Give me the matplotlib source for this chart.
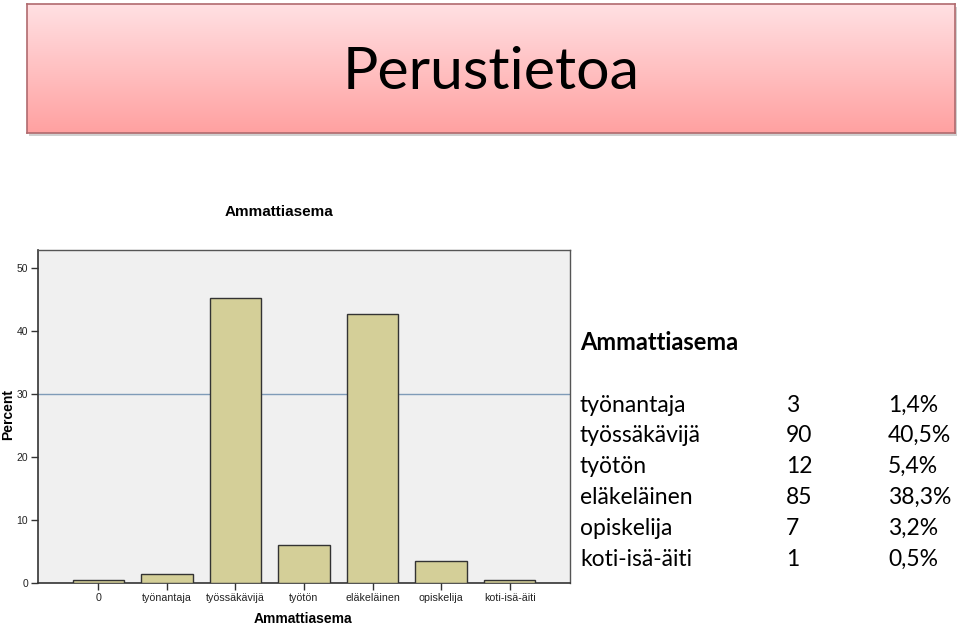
import matplotlib
matplotlib.use("Agg")
import matplotlib.pyplot as plt
import numpy as np

categories = ["0", "työnantaja", "työssäkävijä", "työtön", "eläkeläinen", "opiskelija", "koti-isä-äiti"]
percent = [0.5, 1.5, 45.2, 6.0, 42.7, 3.5, 0.5]
yticks = [0, 10, 20, 30, 40, 50]
ref_line = 30

table_labels = ["työnantaja", "työssäkävijä", "työtön", "eläkeläinen", "opiskelija", "koti-isä-äiti"]
table_counts = ["3", "90", "12", "85", "7", "1"]
table_pcts = ["1,4%", "40,5%", "5,4%", "38,3%", "3,2%", "0,5%"]

W, H = 960, 625
fig = plt.figure(figsize=(9.6, 6.25), dpi=100)
fig.patch.set_facecolor("white")

# Title banner with gradient
bx0, by0, bx1, by1 = 27, 4, 955, 133
shadow = fig.add_axes([(bx0 + 2) / W, 1 - (by1 + 3) / H, (bx1 - bx0) / W, (by1 - by0) / H])
shadow.set_facecolor("#d0d0d0")
shadow.set_xticks([]); shadow.set_yticks([])
for s in shadow.spines.values():
    s.set_visible(False)
ban = fig.add_axes([bx0 / W, 1 - by1 / H, (bx1 - bx0) / W, (by1 - by0) / H])
grad = np.linspace(0, 1, 256).reshape(-1, 1)
top = np.array([1.0, 0.88, 0.89])
bot = np.array([1.0, 0.63, 0.63])
img = top[None, None, :] * (1 - grad[..., None]) + bot[None, None, :] * grad[..., None]
ban.imshow(img, aspect="auto", extent=[0, 1, 0, 1], origin="upper")
ban.set_xlim(0, 1); ban.set_ylim(0, 1)
ban.set_xticks([]); ban.set_yticks([])
for s in ban.spines.values():
    s.set_color("#b06a6e")
    s.set_linewidth(1.2)
ban.text(0.5, 0.47, "Perustietoa", ha="center", va="center", fontsize=42.5,
         family="Lato", color="black")

# Bar chart
ax_l, ax_r, ax_t, ax_b = 38, 570, 250, 583
ax = fig.add_axes([ax_l / W, 1 - ax_b / H, (ax_r - ax_l) / W, (ax_b - ax_t) / H])
ax.set_facecolor("#f0f0f0")
x = np.arange(len(categories))
ax.bar(x, percent, width=0.75, color="#d4cf98", edgecolor="#333333", linewidth=1.0, zorder=3)
ax.axhline(ref_line, color="#7f9bb8", linewidth=1.0, zorder=2)
ax.set_xlim(-0.88, len(categories) - 1 + 0.88)
ax.set_ylim(0, 52.8)
ax.set_yticks(yticks)
ax.set_yticklabels([str(v) for v in yticks], fontsize=7.5, family="Liberation Sans", color="#222222")
ax.set_xticks(x)
ax.set_xticklabels(categories, fontsize=7.7, family="Liberation Sans", color="#222222")
ax.tick_params(axis="both", length=5, width=1, color="#333333", pad=2)
for side in ["left", "bottom"]:
    ax.spines[side].set_color("#333333"); ax.spines[side].set_linewidth(1.2)
for side in ["right", "top"]:
    ax.spines[side].set_color("#555555"); ax.spines[side].set_linewidth(1.0)
fig.text(8 / W, 1 - 415 / H, "Percent", ha="center", va="center", rotation=90,
         fontsize=10, fontweight="bold", family="Liberation Sans")
fig.text(303 / W, 1 - 619 / H, "Ammattiasema", ha="center", va="center",
         fontsize=10, fontweight="bold", family="Liberation Sans")
fig.text(279 / W, 1 - 212 / H, "Ammattiasema", ha="center", va="center",
         fontsize=11, fontweight="bold", family="Liberation Sans")

# Text table on the right
fig.text(580 / W, 1 - 342 / H, "Ammattiasema", ha="left", va="center",
         fontsize=17, fontweight="bold", family="Lato")
row_y0, row_dy = 405, 30.8
for i, (lab, c, p) in enumerate(zip(table_labels, table_counts, table_pcts)):
    yy = 1 - (row_y0 + i * row_dy) / H
    fig.text(580 / W, yy, lab, ha="left", va="center", fontsize=16.5, family="Lato")
    fig.text(786 / W, yy, c, ha="left", va="center", fontsize=16.5, family="Lato")
    fig.text(888 / W, yy, p, ha="left", va="center", fontsize=16.5, family="Lato")

fig.savefig("out.png", dpi=100)
